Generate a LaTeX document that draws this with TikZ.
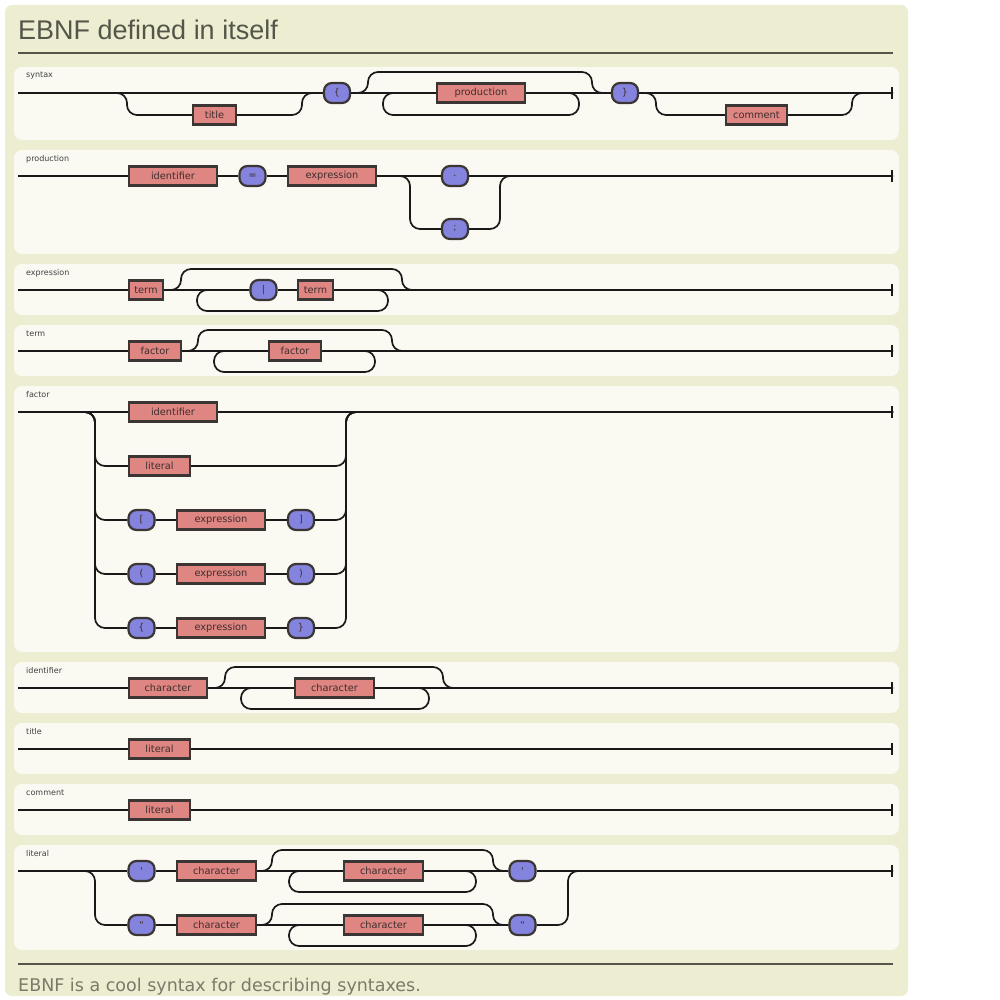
\documentclass[tikz,border=0pt]{standalone}
\usepackage{fontspec}
\newfontfamily\diafont{DejaVu Sans}
\newfontfamily\titlefont{Liberation Sans}
\usetikzlibrary{arrows.meta}
\definecolor{pagebg}{HTML}{EDEDD1}
\definecolor{rowbg}{HTML}{FAFAF3}
\definecolor{ntfill}{HTML}{E08682}
\definecolor{tfill}{HTML}{8484DE}
\definecolor{boxedge}{HTML}{3B3634}
\definecolor{boxtext}{HTML}{3E2E2E}
\definecolor{ink}{HTML}{55554A}
\definecolor{footgray}{HTML}{7A7A68}

\begin{document}
\begin{tikzpicture}[x=1pt, y=-1pt,
  track/.style={line width=1.7pt, black!90, rounded corners=10pt},
  mainline/.style={track, -{Bar[width=12pt, line width=1.7pt]}},
  ntbox/.style={draw=boxedge, line width=2.2pt, fill=ntfill, minimum height=19pt, inner sep=0pt,
    font=\diafont\fontsize{9.8}{11}\selectfont, text=boxtext},
  tbox/.style={draw=boxedge, line width=2.2pt, fill=tfill, rounded corners=8pt, minimum width=26pt,
    minimum height=20pt, inner sep=0pt, font=\diafont\fontsize{9.5}{11}\selectfont, text=boxtext},
  rowpanel/.style={fill=rowbg, rounded corners=8pt},
  rowlabel/.style={anchor=west, inner sep=0pt, font=\diafont\fontsize{8}{9}\selectfont, text=black!75}
]
  \useasboundingbox (0,0) rectangle (1000,1000);
  \fill[pagebg, rounded corners=7pt] (5,5) rectangle (908,996);

  % heading and footer
  \node[anchor=base west, inner sep=0pt, font=\titlefont\fontsize{27}{30}\selectfont, text=ink] (heading) at (18,40) {EBNF defined in itself};
  \draw[ink, line width=1.5pt] (18,53) -- (893,53);
  \draw[ink, line width=1.5pt] (18,964) -- (893,964);
  \node[anchor=base west, inner sep=0pt, font=\diafont\fontsize{17.5}{20}\selectfont, text=footgray] (footer) at (18,991) {EBNF is a cool syntax for describing syntaxes.};

  % row panels
  \foreach \ya/\yb/\lbl in {67/140/syntax, 150/254/production, 264/315/expression, 325/376/term,
      386/652/factor, 662/713/identifier, 723/774/title, 784/835/comment, 845/950/literal} {
    \fill[rowpanel] (14,\ya) rectangle (899,\yb);
    \node[rowlabel] (lbl-\lbl) at (26,\ya+9) {\lbl};
  }

  % syntax
  \coordinate (s-in) at (18,93);
  \coordinate (s-out) at (893,93);
  \node[ntbox, minimum width=43pt] (s-title) at (214.5,115) {title};
  \node[tbox] (s-open) at (337,93) {\{};
  \node[ntbox, minimum width=88pt] (s-prod) at (481,93) {production};
  \node[tbox] (s-close) at (625,93) {\}};
  \node[ntbox, minimum width=61pt] (s-comment) at (756.5,115) {comment};
  \draw[mainline] (s-in) -- (s-open) -- (s-prod) -- (s-close) -- (s-out);
  \draw[track] (s-in) -- (127,93) |- (s-title) -| (302,93) -- (s-open);
  \draw[track] (s-open) -| (368,72) -- (592,72) |- (s-close);
  \draw[track] (s-prod) -- (579,93) |- (383,115) |- (s-prod);
  \draw[track] (s-close) -| (656,115) -- (s-comment) -| (852,93) -- (s-out);

  % production
  \coordinate (p-in) at (18,176);
  \coordinate (p-out) at (893,176);
  \node[ntbox, minimum width=88pt] (p-ident) at (173,176) {identifier};
  \node[tbox] (p-eq) at (252.5,176) {=};
  \node[ntbox, minimum width=88pt] (p-expr) at (332,176) {expression};
  \node[tbox] (p-dot) at (455,176) {.};
  \node[tbox] (p-semi) at (455,229) {;};
  \draw[mainline] (p-in) -- (p-ident) -- (p-eq) -- (p-expr) -- (p-dot) -- (p-out);
  \draw[track] (p-expr) -| (410,229) -- (p-semi) -| (500,176) -- (p-out);

  % expression
  \coordinate (e-in) at (18,290);
  \coordinate (e-out) at (893,290);
  \node[ntbox, minimum width=34pt] (e-term1) at (146,290) {term};
  \node[tbox] (e-bar) at (263.5,290) {|};
  \node[ntbox, minimum width=35pt] (e-term2) at (315.5,290) {term};
  \draw[mainline] (e-in) -- (e-term1) -- (e-bar) -- (e-term2) -- (e-out);
  \draw[track] (e-term1) -| (181,269) -- (402,269) |- (e-out);
  \draw[track] (e-term2) -- (388,290) |- (197,311) |- (e-bar);

  % term
  \coordinate (t-in) at (18,351);
  \coordinate (t-out) at (893,351);
  \node[ntbox, minimum width=52pt] (t-fac1) at (155,351) {factor};
  \node[ntbox, minimum width=52pt] (t-fac2) at (295,351) {factor};
  \draw[mainline] (t-in) -- (t-fac1) -- (t-fac2) -- (t-out);
  \draw[track] (t-fac1) -| (198,330) -- (392,330) |- (t-out);
  \draw[track] (t-fac2) -- (375,351) |- (214,372) |- (t-fac2);

  % factor
  \coordinate (f-in) at (18,412);
  \coordinate (f-out) at (893,412);
  \node[ntbox, minimum width=88pt] (f-ident) at (173,412) {identifier};
  \node[ntbox, minimum width=61pt] (f-lit) at (159.5,466) {literal};
  \foreach \k/\o/\c in {2/{[}/{]}, 3/(/), 4/\{/\}} {
    \node[tbox] (f-open\k) at (141.5,412+54*\k) {\o};
    \node[ntbox, minimum width=88pt] (f-expr\k) at (221,412+54*\k) {expression};
    \node[tbox] (f-close\k) at (301,412+54*\k) {\c};
  }
  \draw[mainline] (f-in) -- (f-ident) -- (f-out);
  \draw[track] (f-in) -- (95,412) |- (f-lit) -| (346,412) -- (f-out);
  \foreach \k in {2,3,4}
    \draw[track] (f-in) -- (95,412) |- (f-open\k) -- (f-expr\k) -- (f-close\k) -| (346,412) -- (f-out);

  % identifier
  \coordinate (i-in) at (18,688);
  \coordinate (i-out) at (893,688);
  \node[ntbox, minimum width=78pt] (i-char1) at (168,688) {character};
  \node[ntbox, minimum width=79pt] (i-char2) at (334.5,688) {character};
  \draw[mainline] (i-in) -- (i-char1) -- (i-char2) -- (i-out);
  \draw[track] (i-char1) -| (225,667) -- (443,667) |- (i-out);
  \draw[track] (i-char2) -- (429,688) |- (241,709) |- (i-char2);

  % title
  \coordinate (ti-in) at (18,749);
  \coordinate (ti-out) at (893,749);
  \node[ntbox, minimum width=61pt] (ti-lit) at (159.5,749) {literal};
  \draw[mainline] (ti-in) -- (ti-lit) -- (ti-out);

  % comment
  \coordinate (c-in) at (18,810);
  \coordinate (c-out) at (893,810);
  \node[ntbox, minimum width=61pt] (c-lit) at (159.5,810) {literal};
  \draw[mainline] (c-in) -- (c-lit) -- (c-out);

  % literal
  \coordinate (l-in) at (18,871);
  \coordinate (l-out) at (893,871);
  \foreach \n/\y/\q in {1/871/', 2/925/"} {
    \node[tbox] (l-qa\n) at (141.5,\y) {\q};
    \node[ntbox, minimum width=79pt] (l-chara\n) at (216.5,\y) {character};
    \node[ntbox, minimum width=79pt] (l-charb\n) at (383.5,\y) {character};
    \node[tbox] (l-qb\n) at (522.5,\y) {\q};
    \draw[track] (l-chara\n) -| (272,\y-21) -- (493,\y-21) |- (l-qb\n);
    \draw[track] (l-charb\n) -- (476,\y) |- (289,\y+21) |- (l-charb\n);
  }
  \draw[mainline] (l-in) -- (l-qa1) -- (l-chara1) -- (l-charb1) -- (l-qb1) -- (l-out);
  \draw[track] (l-in) -- (95,871) |- (l-qa2) -- (l-chara2) -- (l-charb2) -- (l-qb2) -| (568,871) -- (l-out);
\end{tikzpicture}
\end{document}
